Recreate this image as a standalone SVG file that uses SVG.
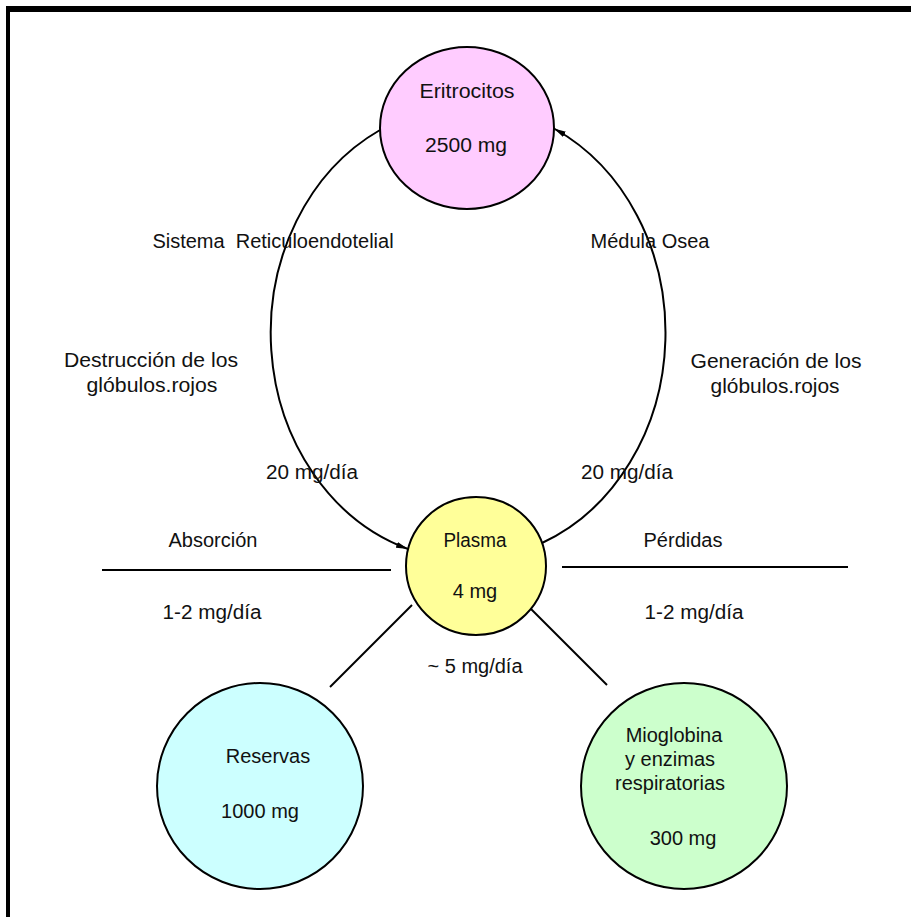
<svg xmlns="http://www.w3.org/2000/svg" width="911" height="917" viewBox="0 0 911 917">
<style>
text{font-family:"Liberation Sans",Arial,sans-serif;font-size:20px;fill:#111;text-anchor:middle}
.node{stroke:#000;stroke-width:2}
.conn{fill:none;stroke:#000;stroke-width:2}
</style>
<defs>
<marker id="ah" markerUnits="userSpaceOnUse" markerWidth="12" markerHeight="6" refX="12" refY="3" orient="auto">
<path d="M0,0 L12,3 L0,6 z" fill="#000"/>
</marker>
</defs>
<rect x="0" y="0" width="911" height="917" fill="#fff"/>
<rect x="6" y="6" width="905" height="6" fill="#000"/>
<rect x="6" y="6" width="4" height="911" fill="#000"/>
<g id="connectors">
<path class="conn" d="M380,130 A198,227 0 0 0 408,549" marker-end="url(#ah)"/>
<path class="conn" d="M542,543 A198,227 0 0 0 554,128.5" marker-end="url(#ah)"/>
<line class="conn" x1="102" y1="570" x2="391" y2="570"/>
<line class="conn" x1="562" y1="567" x2="848" y2="567"/>
<line class="conn" x1="412" y1="605" x2="330" y2="687"/>
<line class="conn" x1="530" y1="608" x2="607" y2="685"/>
</g>
<g id="labels">
<text x="273" y="248" xml:space="preserve">Sistema  Reticuloendotelial</text>
<text x="650" y="248">Médula Osea</text>
<text x="151" y="367" textLength="174" lengthAdjust="spacingAndGlyphs">Destrucción de los</text>
<text x="152" y="392" textLength="131" lengthAdjust="spacingAndGlyphs">glóbulos.rojos</text>
<text x="776" y="368" textLength="171" lengthAdjust="spacingAndGlyphs">Generación de los</text>
<text x="775" y="393" textLength="129" lengthAdjust="spacingAndGlyphs">glóbulos.rojos</text>
<text x="312" y="479" textLength="92" lengthAdjust="spacingAndGlyphs">20 mg/día</text>
<text x="627" y="479" textLength="92" lengthAdjust="spacingAndGlyphs">20 mg/día</text>
<text x="213" y="547">Absorción</text>
<text x="683" y="547">Pérdidas</text>
<text x="212" y="619" textLength="99" lengthAdjust="spacingAndGlyphs">1-2 mg/día</text>
<text x="694" y="619" textLength="99" lengthAdjust="spacingAndGlyphs">1-2 mg/día</text>
<text x="475" y="673">~ 5 mg/día</text>
</g>
<g id="eritrocitos">
<ellipse class="node" cx="467" cy="128" rx="87" ry="81" fill="#FFCCFF"/>
<text x="467" y="98" textLength="95" lengthAdjust="spacingAndGlyphs">Eritrocitos</text>
<text x="466" y="152" textLength="82" lengthAdjust="spacingAndGlyphs">2500 mg</text>
</g>
<g id="plasma">
<ellipse class="node" cx="476" cy="566" rx="70" ry="69" fill="#FFFF99"/>
<text x="475" y="547" textLength="63" lengthAdjust="spacingAndGlyphs">Plasma</text>
<text x="475" y="598">4 mg</text>
</g>
<g id="reservas">
<circle class="node" cx="260" cy="786" r="103" fill="#CCFFFF"/>
<text x="268" y="763">Reservas</text>
<text x="260" y="818">1000 mg</text>
</g>
<g id="mioglobina">
<circle class="node" cx="684" cy="786" r="103" fill="#CCFFCC"/>
<text x="674" y="742">Mioglobina</text>
<text x="670" y="766">y enzimas</text>
<text x="670" y="790">respiratorias</text>
<text x="683" y="845">300 mg</text>
</g>
</svg>
